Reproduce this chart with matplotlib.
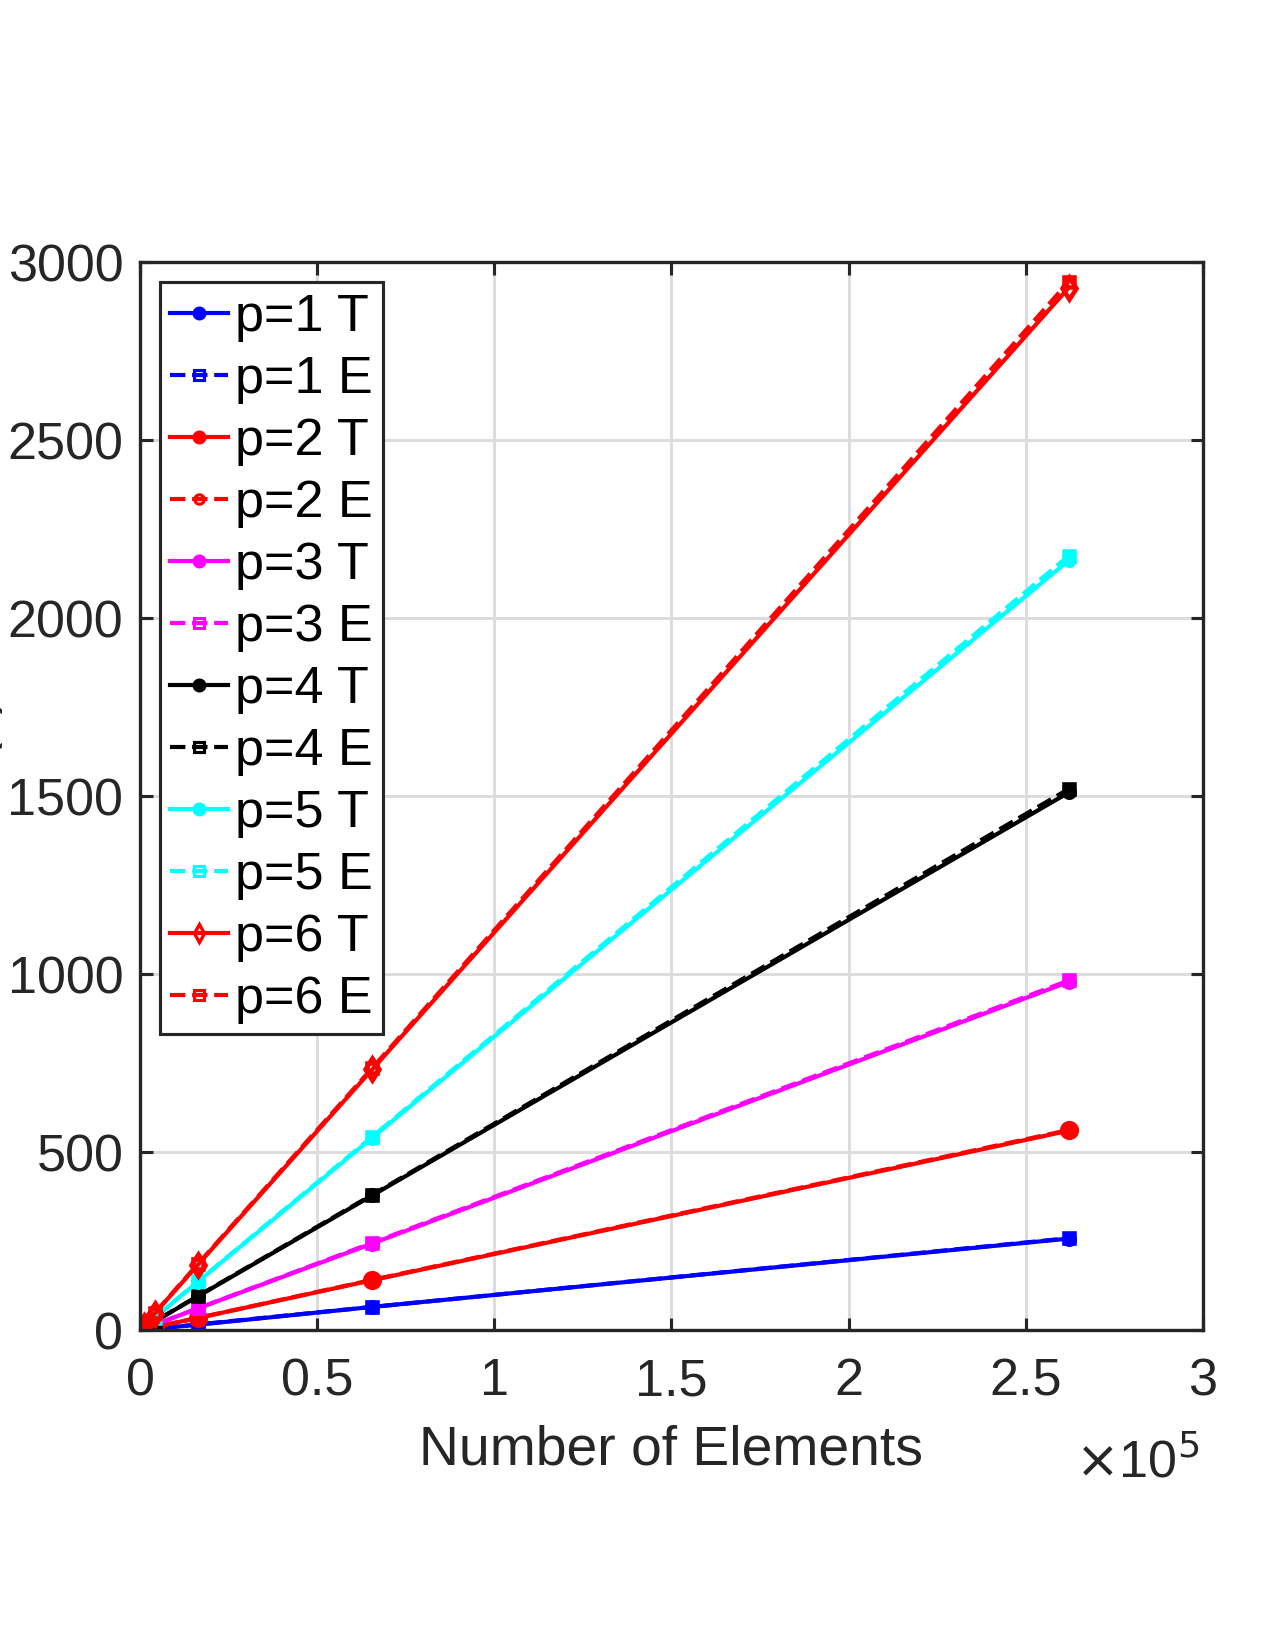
import matplotlib
matplotlib.use("Agg")
import matplotlib.pyplot as plt
from matplotlib.ticker import FuncFormatter, MultipleLocator

# number of elements (x) and measured values per polynomial order
n_elements = [256, 1024, 4096, 16384, 65536, 262144]

p1_T = [0.25, 1.0, 4.0, 15, 65, 257]
p1_E = [0.25, 1.0, 4.0, 16, 65, 258]
p2_T = [0.55, 2.2, 8.5, 34, 140, 560]
p2_E = [0.55, 2.2, 8.6, 34, 141, 562]
p3_T = [0.95, 3.8, 15, 61, 243, 978]
p3_E = [0.96, 3.8, 15, 61, 245, 982]
p4_T = [1.5, 5.9, 24, 95, 378, 1510]
p4_E = [1.5, 6.0, 24, 96, 380, 1520]
p5_T = [2.1, 8.5, 34, 136, 540, 2162]
p5_E = [2.1, 8.6, 34, 137, 543, 2175]
p6_T = [2.9, 11.5, 46, 184, 732, 2928]
p6_E = [2.9, 11.6, 47, 186, 736, 2945]

labels = ["p=1 T", "p=1 E", "p=2 T", "p=2 E", "p=3 T", "p=3 E",
          "p=4 T", "p=4 E", "p=5 T", "p=5 E", "p=6 T", "p=6 E"]
series = [p1_T, p1_E, p2_T, p2_E, p3_T, p3_E, p4_T, p4_E, p5_T, p5_E, p6_T, p6_E]
colors = ["#0000FF", "#0000FF", "#FF0000", "#FF0000", "#FF00FF", "#FF00FF",
          "#000000", "#000000", "#00FFFF", "#00FFFF", "#FF0000", "#FF0000"]
markers = [".", "s", ".", "o", ".", "s", ".", "s", ".", "s", "d", "s"]

plt.rcParams['font.family'] = ['Liberation Sans', 'DejaVu Sans']
dark = "#262626"

fig = plt.figure(figsize=(8.5, 11), dpi=150)
ax = fig.add_axes([0.1098, 0.1939, 0.8337, 0.6473])

for i, (vals, lab) in enumerate(zip(series, labels)):
    is_T = lab.endswith("T")
    mk = markers[i]
    if mk == ".":
        ms, face = 10, colors[i]
    elif mk == "o":
        ms, face = 7, "none"
    elif mk == "d":
        ms, face = 7.5, "none"
    else:
        ms, face = 5, "none"
    ax.plot(n_elements, vals, color=colors[i], linestyle="-" if is_T else "--",
            linewidth=2, marker=mk, markersize=ms, markerfacecolor=face,
            markeredgewidth=2.2, label=lab)

ax.set_xlim(0, 3e5)
ax.set_ylim(0, 3000)
ax.xaxis.set_major_locator(MultipleLocator(0.5e5))
ax.yaxis.set_major_locator(MultipleLocator(500))
ax.xaxis.set_major_formatter(FuncFormatter(lambda v, pos: f"{v / 1e5:g}"))

ax.grid(True, color="#dcdcdc", linewidth=1.4)
ax.set_axisbelow(True)
for sp in ax.spines.values():
    sp.set_color(dark)
    sp.set_linewidth(1.6)
ax.tick_params(direction="in", length=6, width=1.5, colors=dark,
               labelsize=25, top=True, right=True)
ax.tick_params(axis="x", pad=13)
ax.tick_params(axis="y", pad=8)

ax.set_xlabel("Number of Elements", fontsize=26.5, color=dark, labelpad=9)
ax.set_ylabel("Time (s)", fontsize=26.5, color=dark)
ax.yaxis.set_label_coords(-0.129, 0.5)

fig.text(0.9405, 0.1045, r"$\times$10$^5$", fontsize=25, color=dark,
         ha="right", va="baseline")

leg = ax.legend(loc="upper left", bbox_to_anchor=(0.0188, 0.981),
                borderaxespad=0, fontsize=25, handlelength=1.1,
                handletextpad=0.14, borderpad=0.2, labelspacing=0.25,
                fancybox=False, framealpha=1, edgecolor=dark)
leg.get_frame().set_linewidth(1.5)
for h, mk in zip(leg.legend_handles, markers):
    if mk == ".":
        h.set_markersize(9)
    elif mk == "d":
        h.set_markersize(6)
        h.set_markeredgewidth(1.6)
    else:
        h.set_markersize(4.5)
        h.set_markeredgewidth(1.5)
for t in leg.get_texts():
    t.set_color("black")

fig.savefig("out.png", dpi=150)
